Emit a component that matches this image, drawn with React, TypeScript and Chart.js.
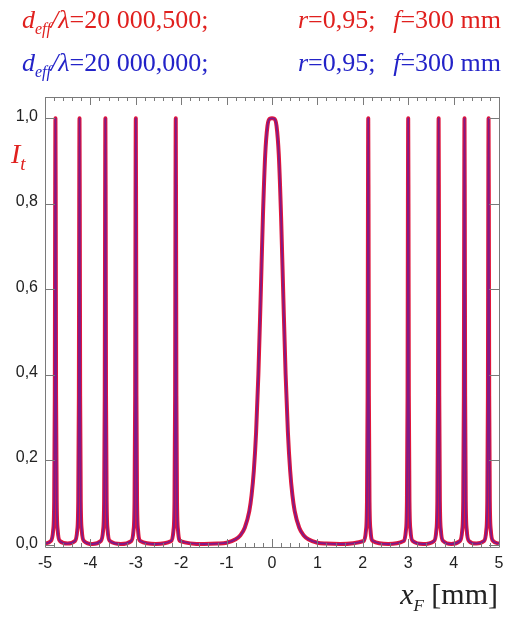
import React, { useEffect, useRef } from "react";
import { Chart, registerables } from "chart.js";
Chart.register(...registerables);

// ---------- data ----------
const xMin = -5;
const xMax = 5;
const yMin = -0.004;
const yMax = 1.05;

const xTickValues = [-5, -4, -3, -2, -1, 0, 1, 2, 3, 4, 5];
const xTickLabels = ["-5", "-4", "-3", "-2", "-1", "0", "1", "2", "3", "4", "5"];
const yTickValues = [0, 0.2, 0.4, 0.6, 0.8, 1.0];
const yTickLabels = ["0,0", "0,2", "0,4", "0,6", "0,8", "1,0"];

// central (wide) transmission peak
const centralX = [-1.5, -1.2, -1.0, -0.8, -0.7, -0.6, -0.5, -0.45, -0.4, -0.35, -0.3, -0.25, -0.2, -0.15, -0.1, -0.05, 0,
  0.05, 0.1, 0.15, 0.2, 0.25, 0.3, 0.35, 0.4, 0.45, 0.5, 0.6, 0.7, 0.8, 1.0, 1.2, 1.5];
const centralY = [0.003, 0.004, 0.006, 0.014, 0.023, 0.041, 0.08, 0.117, 0.175, 0.265, 0.4, 0.58, 0.77, 0.914, 0.982, 0.999, 1.0,
  0.999, 0.982, 0.914, 0.77, 0.58, 0.4, 0.265, 0.175, 0.117, 0.08, 0.041, 0.023, 0.014, 0.006, 0.004, 0.003];

// narrow ring peaks (centres) and their common profile
const narrowPeakCenters = [-4.77, -4.24, -3.67, -3.0, -2.12, 2.12, 3.0, 3.67, 4.24, 4.77];
const peakOffsets = [-0.1, -0.05, -0.028, -0.014, -0.006, 0, 0.006, 0.014, 0.028, 0.05, 0.1];
const peakValues = [0.01, 0.035, 0.1, 0.35, 0.8, 1.0, 0.8, 0.35, 0.1, 0.035, 0.01];

// background level between peaks
const baselineX = [-5, -4.5, -3.95, -3.33, -2.56, 2.56, 3.33, 3.95, 4.5, 5];
const baselineY = [0.004, 0.004, 0.003, 0.003, 0.003, 0.003, 0.003, 0.003, 0.004, 0.004];

// ---------- build table ----------
function buildSeries() {
  const pts: { x: number; y: number }[] = [];
  centralX.forEach((x, i) => pts.push({ x, y: centralY[i] }));
  narrowPeakCenters.forEach((c) =>
    peakOffsets.forEach((o, i) => pts.push({ x: c + o, y: peakValues[i] }))
  );
  baselineX.forEach((x, i) => pts.push({ x, y: baselineY[i] }));
  pts.sort((a, b) => a.x - b.x);
  return pts;
}

const SERIF = '"Liberation Serif", "Times New Roman", serif';
const SANS = '"Liberation Sans", Arial, sans-serif';

type Part = { t: string; italic?: boolean; size: number; dy?: number };

function drawRich(ctx: CanvasRenderingContext2D, x: number, y: number, parts: Part[], color: string) {
  ctx.fillStyle = color;
  ctx.textBaseline = "alphabetic";
  ctx.textAlign = "left";
  let cx = x;
  for (const p of parts) {
    ctx.font = `${p.italic ? "italic " : ""}${p.size}px ${SERIF}`;
    ctx.fillText(p.t, cx, y + (p.dy || 0));
    cx += ctx.measureText(p.t).width;
  }
  return cx;
}
function richWidth(ctx: CanvasRenderingContext2D, parts: Part[]) {
  let w = 0;
  for (const p of parts) {
    ctx.font = `${p.italic ? "italic " : ""}${p.size}px ${SERIF}`;
    w += ctx.measureText(p.t).width;
  }
  return w;
}

const decorPlugin = {
  id: "decor",
  afterDraw(chart: any) {
    const ctx: CanvasRenderingContext2D = chart.ctx;
    const { left, right, top, bottom } = chart.chartArea;
    const xs = chart.scales.x;
    const ys = chart.scales.y;
    ctx.save();
    // frame
    ctx.strokeStyle = "#7a7a7a";
    ctx.lineWidth = 1;
    ctx.beginPath();
    ctx.rect(Math.round(left) + 0.5, Math.round(top) + 0.5, Math.round(right - left), Math.round(bottom - top));
    ctx.stroke();
    // x ticks: majors at integers, minors every 0.2
    ctx.beginPath();
    for (let k = -25; k <= 25; k++) {
      const v = k / 5;
      const px = Math.round(xs.getPixelForValue(v)) + 0.5;
      const len = k % 5 === 0 ? 8 : 4;
      ctx.moveTo(px, bottom);
      ctx.lineTo(px, bottom - len);
      ctx.moveTo(px, top);
      ctx.lineTo(px, top + len);
    }
    // y ticks
    for (const v of yTickValues) {
      const py = Math.round(ys.getPixelForValue(v)) + 0.5;
      ctx.moveTo(left, py);
      ctx.lineTo(left + 10, py);
      ctx.moveTo(right, py);
      ctx.lineTo(right - 10, py);
    }
    ctx.stroke();

    // tick labels
    ctx.fillStyle = "#222";
    ctx.font = `16px ${SANS}`;
    ctx.textAlign = "center";
    ctx.textBaseline = "top";
    xTickValues.forEach((v, i) => {
      ctx.fillText(xTickLabels[i], xs.getPixelForValue(v), bottom + 9);
    });
    ctx.textAlign = "right";
    ctx.textBaseline = "middle";
    yTickValues.forEach((v, i) => {
      ctx.fillText(yTickLabels[i], left - 7, ys.getPixelForValue(v) - 2);
    });

    // titles
    const red = "#e0201e";
    const blue = "#2323c8";
    const fs = 26;
    const line = (y: number, val: string, color: string) => {
      drawRich(ctx, 22, y, [
        { t: "d", italic: true, size: fs },
        { t: "eff", italic: true, size: 16, dy: 6 },
        { t: "/λ", italic: true, size: fs },
        { t: "=20 000," + val + ";", size: fs },
      ], color);
      drawRich(ctx, 298, y, [
        { t: "r", italic: true, size: fs },
        { t: "=0,95;", size: fs },
      ], color);
      const fParts: Part[] = [
        { t: "f", italic: true, size: fs },
        { t: "=300 mm", size: fs },
      ];
      drawRich(ctx, 501 - richWidth(ctx, fParts), y, fParts, color);
    };
    line(28, "500", red);
    line(71, "000", blue);

    // axis titles
    drawRich(ctx, 11, 163, [
      { t: "I", italic: true, size: 28 },
      { t: "t", italic: true, size: 19, dy: 7 },
    ], red);
    const xl: Part[] = [
      { t: "x", italic: true, size: 30 },
      { t: "F", italic: true, size: 17, dy: 7 },
      { t: " [mm]", size: 30 },
    ];
    drawRich(ctx, 498 - richWidth(ctx, xl), 604, xl, "#222");
    ctx.restore();
  },
};

export default function App() {
  const ref = useRef<HTMLCanvasElement>(null);
  useEffect(() => {
    document.body.style.margin = "0";
    const data = buildSeries();
    const chart = new Chart(ref.current!, {
      type: "line",
      data: {
        datasets: [
          {
            label: "d/λ=20 000,000",
            data: data.map((p) => ({ x: p.x, y: p.y })),
            borderColor: "rgba(50,30,200,0.55)",
            borderWidth: 1.8,
            pointRadius: 0,
            cubicInterpolationMode: "monotone",
            borderJoinStyle: "round",
            order: 0,
          },
          {
            label: "d/λ=20 000,500",
            data: data,
            borderColor: "rgb(225,22,60)",
            borderWidth: 4,
            pointRadius: 0,
            cubicInterpolationMode: "monotone",
            borderJoinStyle: "round",
            order: 1,
          },
        ],
      },
      options: {
        responsive: false,
        animation: false,
        layout: { padding: { left: 45, top: 97, right: 21, bottom: 72 } },
        scales: {
          x: { type: "linear", min: xMin, max: xMax, display: false },
          y: { type: "linear", min: yMin, max: yMax, display: false },
        },
        plugins: { legend: { display: false }, tooltip: { enabled: false } },
      },
      plugins: [decorPlugin],
    });
    return () => chart.destroy();
  }, []);
  return (
    <div style={{ width: 520, height: 619, background: "#fff" }}>
      <canvas ref={ref} width={520} height={619} />
    </div>
  );
}
